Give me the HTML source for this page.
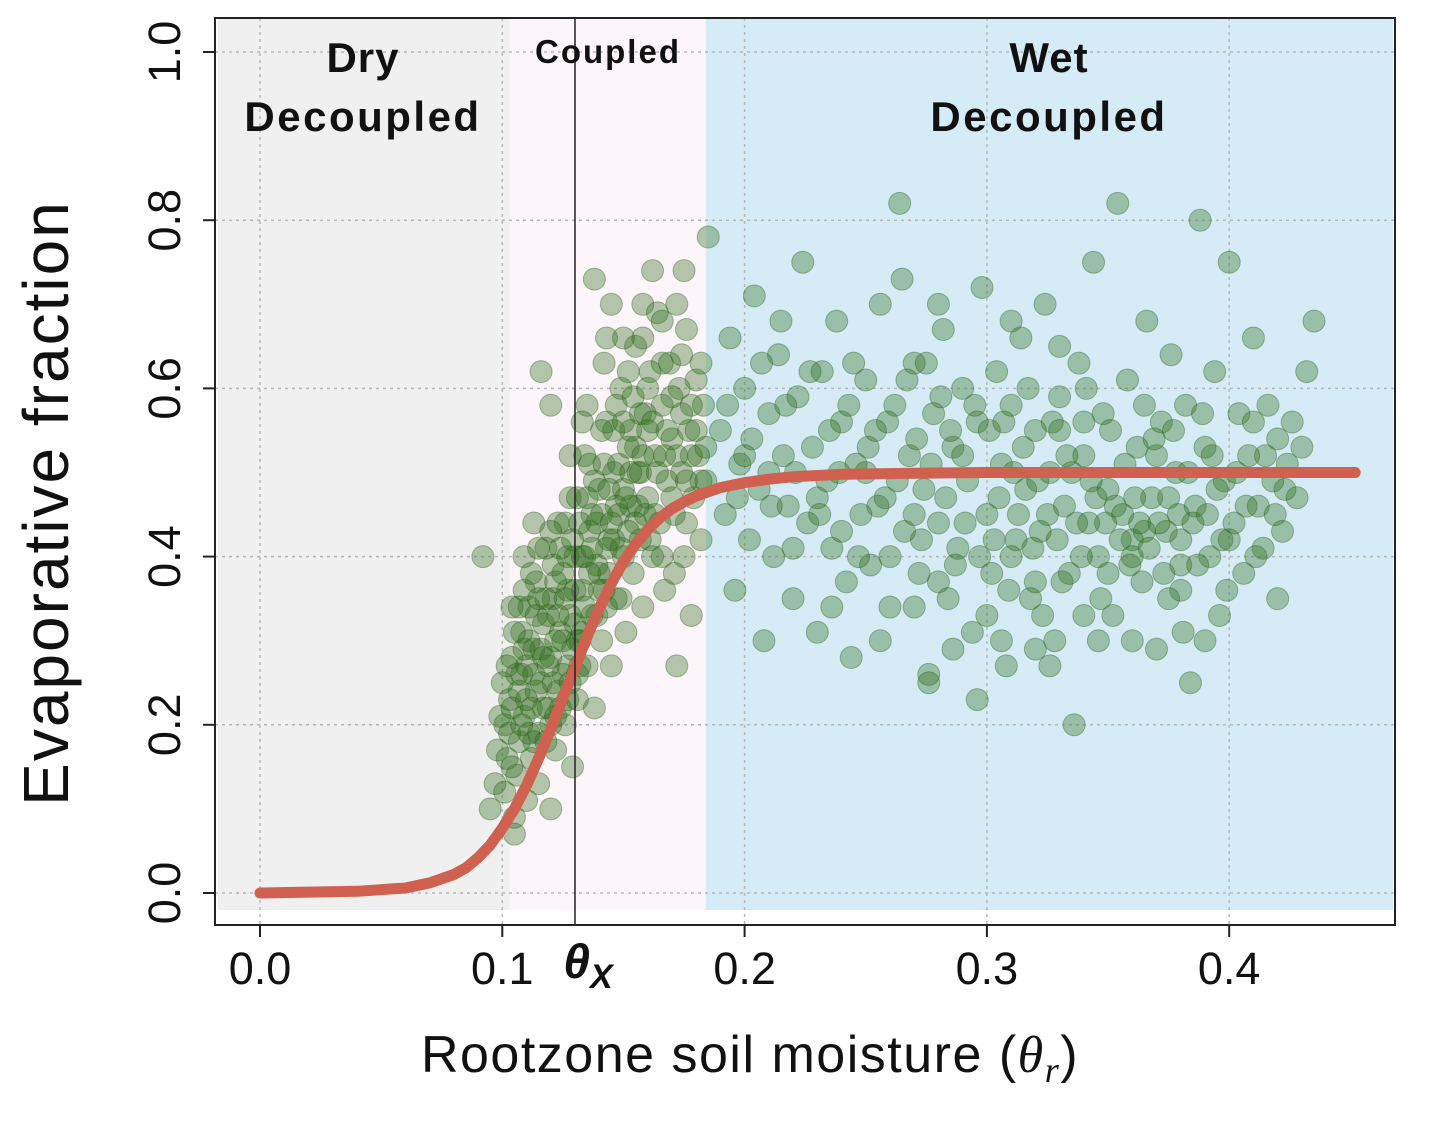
<!DOCTYPE html>
<html><head><meta charset="utf-8">
<style>
html,body{margin:0;padding:0;background:#fff;}
svg{display:block;}
text{font-family:"Liberation Sans",sans-serif;}
</style></head>
<body>
<svg id="chart" width="1429" height="1125" xmlns="http://www.w3.org/2000/svg">
<g id="bg"></g><g id="grid"></g><g id="pts"></g><g id="curve"></g><g id="axes"></g>
</svg>
<script>
const xTicks=[0.0,0.1,0.2,0.3,0.4];
const yTicks=[0.0,0.2,0.4,0.6,0.8,1.0];
const regionBounds=[0.103,0.184];
const thetaX=0.130;
const curveX=[0,0.04,0.06,0.07,0.08,0.085,0.09,0.095,0.1,0.105,0.11,0.115,0.12,0.125,0.13,0.135,0.14,0.145,0.15,0.155,0.16,0.165,0.17,0.175,0.18,0.19,0.2,0.21,0.22,0.24,0.27,0.3,0.35,0.4,0.452];
const curveY=[0,0.002,0.006,0.012,0.022,0.030,0.042,0.057,0.077,0.100,0.128,0.160,0.195,0.232,0.268,0.305,0.338,0.368,0.394,0.415,0.432,0.446,0.457,0.465,0.472,0.482,0.488,0.492,0.495,0.498,0.499,0.5,0.5,0.5,0.5];
const scatterPairs="0.095,0.10 0.097,0.13 0.098,0.17 0.099,0.21 0.100,0.25 0.101,0.12 0.102,0.16 0.103,0.19 0.103,0.23 0.104,0.28 0.105,0.09 0.106,0.14 0.107,0.18 0.107,0.24 0.108,0.31 0.109,0.21 0.110,0.11 0.110,0.27 0.111,0.34 0.112,0.16 0.112,0.22 0.113,0.29 0.114,0.37 0.115,0.13 0.115,0.19 0.116,0.25 0.117,0.32 0.118,0.41 0.119,0.22 0.120,0.10 0.120,0.28 0.121,0.35 0.122,0.17 0.123,0.24 0.123,0.44 0.124,0.31 0.125,0.38 0.126,0.20 0.127,0.27 0.128,0.33 0.128,0.47 0.129,0.15 0.130,0.40 0.131,0.23 0.132,0.30 0.133,0.36 0.134,0.52 0.135,0.27 0.136,0.43 0.137,0.33 0.138,0.22 0.139,0.39 0.140,0.48 0.141,0.30 0.142,0.36 0.143,0.56 0.144,0.42 0.145,0.27 0.146,0.50 0.147,0.35 0.148,0.45 0.149,0.60 0.150,0.40 0.151,0.31 0.152,0.53 0.153,0.46 0.154,0.38 0.155,0.65 0.156,0.50 0.157,0.42 0.158,0.34 0.159,0.57 0.160,0.47 0.161,0.62 0.162,0.40 0.163,0.52 0.164,0.69 0.165,0.44 0.166,0.58 0.167,0.36 0.168,0.49 0.169,0.63 0.170,0.54 0.171,0.45 0.172,0.27 0.173,0.60 0.174,0.50 0.175,0.40 0.176,0.67 0.177,0.55 0.178,0.33 0.179,0.47 0.180,0.61 0.181,0.52 0.182,0.42 0.183,0.58 0.184,0.49 0.185,0.78 0.12,0.58 0.116,0.62 0.113,0.44 0.138,0.73 0.145,0.70 0.175,0.74 0.092,0.40 0.105,0.07 0.104,0.15 0.108,0.26 0.111,0.19 0.114,0.24 0.117,0.28 0.119,0.33 0.122,0.30 0.125,0.26 0.127,0.36 0.130,0.32 0.132,0.27 0.134,0.40 0.137,0.45 0.140,0.38 0.143,0.34 0.146,0.42 0.150,0.48 0.153,0.55 0.157,0.50 0.160,0.55 0.163,0.45 0.167,0.52 0.170,0.47 0.174,0.57 0.178,0.52 0.182,0.49 0.109,0.29 0.115,0.35 0.121,0.39 0.126,0.44 0.131,0.47 0.136,0.51 0.141,0.55 0.147,0.58 0.152,0.62 0.158,0.66 0.120,0.20 0.124,0.22 0.129,0.29 0.133,0.31 0.139,0.33 0.144,0.38 0.149,0.35 0.155,0.44 0.161,0.42 0.166,0.40 0.171,0.38 0.176,0.44 0.190,0.55 0.192,0.45 0.194,0.66 0.196,0.36 0.198,0.51 0.200,0.60 0.202,0.42 0.204,0.71 0.206,0.48 0.208,0.30 0.210,0.57 0.212,0.40 0.214,0.64 0.216,0.52 0.218,0.46 0.220,0.35 0.222,0.59 0.224,0.75 0.226,0.44 0.228,0.53 0.230,0.31 0.232,0.62 0.234,0.49 0.236,0.41 0.238,0.68 0.240,0.56 0.242,0.37 0.244,0.28 0.246,0.51 0.248,0.45 0.250,0.61 0.252,0.39 0.254,0.55 0.256,0.70 0.258,0.47 0.260,0.34 0.262,0.58 0.264,0.82 0.266,0.43 0.268,0.52 0.270,0.63 0.272,0.38 0.274,0.48 0.276,0.26 0.278,0.57 0.280,0.44 0.282,0.67 0.284,0.35 0.286,0.53 0.288,0.41 0.290,0.60 0.292,0.49 0.294,0.31 0.296,0.56 0.298,0.72 0.300,0.45 0.302,0.38 0.304,0.62 0.306,0.51 0.308,0.27 0.310,0.58 0.312,0.42 0.314,0.66 0.316,0.48 0.318,0.35 0.320,0.55 0.322,0.43 0.324,0.70 0.326,0.50 0.328,0.30 0.330,0.59 0.332,0.46 0.334,0.38 0.336,0.20 0.338,0.63 0.340,0.52 0.342,0.44 0.344,0.75 0.346,0.40 0.348,0.57 0.350,0.48 0.352,0.33 0.354,0.82 0.356,0.45 0.358,0.61 0.360,0.42 0.362,0.53 0.364,0.37 0.366,0.68 0.368,0.47 0.370,0.29 0.372,0.56 0.374,0.43 0.376,0.64 0.378,0.50 0.380,0.36 0.382,0.58 0.384,0.25 0.386,0.46 0.388,0.80 0.390,0.53 0.392,0.40 0.394,0.62 0.396,0.33 0.398,0.49 0.400,0.75 0.402,0.44 0.404,0.57 0.406,0.38 0.408,0.52 0.410,0.66 0.412,0.46 0.414,0.41 0.416,0.58 0.418,0.49 0.420,0.54 0.422,0.43 0.424,0.51 0.426,0.56 0.428,0.47 0.430,0.53 0.432,0.62 0.435,0.68 0.305,0.47 0.315,0.53 0.325,0.45 0.335,0.50 0.345,0.47 0.355,0.42 0.365,0.43 0.375,0.47 0.385,0.44 0.395,0.48 0.31,0.40 0.33,0.55 0.35,0.38 0.37,0.52 0.36,0.40 0.34,0.56 0.32,0.37 0.38,0.42 0.29,0.52 0.27,0.45 0.25,0.50 0.23,0.47 0.21,0.50 0.2,0.52 0.215,0.68 0.245,0.63 0.275,0.63 0.285,0.55 0.365,0.58 0.375,0.35 0.39,0.30 0.26,0.40 0.24,0.43 0.22,0.41 0.27,0.34 0.28,0.37 0.3,0.33 0.32,0.29 0.34,0.33 0.36,0.30 0.38,0.39 0.40,0.42 0.41,0.56 0.42,0.35 0.265,0.73 0.31,0.68 0.33,0.65 0.28,0.70 0.101,0.20 0.102,0.27 0.104,0.22 0.105,0.31 0.106,0.26 0.107,0.34 0.108,0.20 0.109,0.36 0.110,0.23 0.111,0.30 0.112,0.38 0.113,0.26 0.114,0.33 0.115,0.41 0.116,0.29 0.117,0.22 0.118,0.35 0.119,0.27 0.120,0.43 0.121,0.25 0.122,0.37 0.123,0.33 0.124,0.41 0.125,0.30 0.126,0.35 0.127,0.40 0.128,0.25 0.129,0.42 0.130,0.36 0.131,0.30 0.132,0.44 0.133,0.40 0.134,0.34 0.135,0.47 0.136,0.38 0.137,0.41 0.138,0.49 0.139,0.44 0.140,0.36 0.141,0.45 0.142,0.51 0.143,0.41 0.144,0.48 0.145,0.44 0.146,0.55 0.147,0.46 0.148,0.51 0.149,0.41 0.150,0.56 0.151,0.47 0.152,0.43 0.153,0.50 0.154,0.59 0.155,0.53 0.156,0.46 0.157,0.57 0.158,0.52 0.159,0.45 0.160,0.60 0.162,0.56 0.164,0.50 0.166,0.63 0.168,0.55 0.170,0.59 0.172,0.52 0.174,0.64 0.176,0.49 0.178,0.58 0.180,0.55 0.182,0.63 0.184,0.53 0.113,0.18 0.118,0.18 0.122,0.21 0.127,0.23 0.131,0.26 0.104,0.34 0.109,0.40 0.135,0.58 0.142,0.63 0.150,0.66 0.158,0.70 0.166,0.68 0.172,0.70 0.162,0.74 0.143,0.66 0.128,0.52 0.133,0.56 0.193,0.58 0.197,0.47 0.203,0.54 0.207,0.63 0.211,0.46 0.217,0.58 0.221,0.50 0.227,0.62 0.231,0.45 0.235,0.55 0.239,0.50 0.243,0.58 0.247,0.40 0.251,0.53 0.255,0.46 0.259,0.56 0.263,0.49 0.267,0.61 0.271,0.54 0.273,0.42 0.277,0.51 0.281,0.59 0.283,0.47 0.287,0.39 0.291,0.44 0.295,0.58 0.297,0.40 0.301,0.55 0.303,0.42 0.307,0.56 0.309,0.36 0.311,0.50 0.313,0.45 0.317,0.60 0.319,0.41 0.321,0.49 0.323,0.33 0.327,0.56 0.329,0.42 0.331,0.37 0.333,0.52 0.337,0.44 0.339,0.40 0.341,0.60 0.343,0.49 0.347,0.35 0.349,0.44 0.351,0.55 0.353,0.46 0.357,0.51 0.359,0.39 0.361,0.47 0.363,0.44 0.367,0.41 0.369,0.54 0.371,0.44 0.373,0.38 0.377,0.55 0.379,0.45 0.381,0.31 0.383,0.50 0.387,0.39 0.389,0.57 0.391,0.45 0.393,0.52 0.397,0.42 0.399,0.36 0.403,0.50 0.407,0.46 0.411,0.40 0.415,0.52 0.419,0.45 0.423,0.48 0.346,0.30 0.326,0.27 0.306,0.30 0.286,0.29 0.256,0.30 0.236,0.34 0.276,0.25 0.296,0.23";
const soilMoisture=scatterPairs.split(" ").map(p=>+p.split(",")[0]);
const evapFraction=scatterPairs.split(" ").map(p=>+p.split(",")[1]);

const NS="http://www.w3.org/2000/svg";
const L=215,R=1395,T=18,B=925;
const sx=v=>260+v*2423;
const sy=v=>893-v*841;
function mk(tag,attrs,parent,txt){const e=document.createElementNS(NS,tag);for(const k in attrs)e.setAttribute(k,attrs[k]);if(txt!==undefined)e.textContent=txt;document.getElementById(parent).appendChild(e);return e;}

let e;
e=mk('rect',{x:L+3,y:T,width:sx(regionBounds[0])-L-3,height:910-T,fill:'#f0f0f0'},'bg');


e=mk('rect',{x:sx(regionBounds[0]),y:T,width:sx(regionBounds[1])-sx(regionBounds[0]),height:910-T,fill:'#fcf5f9'},'bg');


e=mk('rect',{x:sx(regionBounds[1]),y:T,width:R-2-sx(regionBounds[1]),height:910-T,fill:'#d5ecf6'},'bg');



xTicks.forEach(v=>{e=mk('line',{x1:sx(v),x2:sx(v),y1:T,y2:B,stroke:'#b8b8b8','stroke-width':1.5,'stroke-dasharray':'3,4'},'grid');

});
yTicks.forEach(v=>{e=mk('line',{x1:L,x2:R,y1:sy(v),y2:sy(v),stroke:'#b8b8b8','stroke-width':1.5,'stroke-dasharray':'3,4'},'grid');

});

soilMoisture.forEach((x,i)=>{e=mk('circle',{cx:sx(x),cy:sy(evapFraction[i]),r:11,fill:'rgba(50,112,30,0.36)',stroke:'rgba(40,95,25,0.4)','stroke-width':1},'pts');

});

let d='';curveX.forEach((x,i)=>{d+=(i?'L':'M')+sx(x).toFixed(1)+','+sy(curveY[i]).toFixed(1);});
e=mk('path',{d:d,fill:'none',stroke:'#d0604f','stroke-width':11,'stroke-linecap':'round','stroke-linejoin':'round'},'curve');



e=mk('line',{x1:sx(thetaX),x2:sx(thetaX),y1:T,y2:B,stroke:'#222','stroke-width':1.5},'axes');



e=mk('rect',{x:L,y:T,width:R-L,height:B-T,fill:'none',stroke:'#222','stroke-width':2},'axes');



xTicks.forEach(v=>{mk('line',{x1:sx(v),x2:sx(v),y1:B,y2:B+12,stroke:'#222','stroke-width':2},'axes');
e=mk('text',{x:sx(v),y:984,'text-anchor':'middle','font-size':45,fill:'#111'},'axes',v.toFixed(1));

});
yTicks.forEach(v=>{mk('line',{x1:L-12,x2:L,y1:sy(v),y2:sy(v),stroke:'#222','stroke-width':2},'axes');
e=mk('text',{x:0,y:0,'text-anchor':'middle','font-size':45,fill:'#111',transform:`translate(180,${sy(v)}) rotate(-90)`},'axes',v.toFixed(1));

});

function lab(name,txt,x,y,size,ls){e=mk('text',{x:x,y:y,'text-anchor':'middle','font-size':size,'font-weight':'bold',fill:'#111','letter-spacing':ls},'axes',txt);

}
lab('dry-label','Dry',363,72,42,1);lab('dry-decoupled-label','Decoupled',363,131,42,2.5);
lab('coupled-label','Coupled',608,63,33,2);
lab('wet-label','Wet',1049,72,42,1);lab('wet-decoupled-label','Decoupled',1049,131,42,2.5);

e=mk('text',{x:588,y:978,'text-anchor':'middle','font-size':48,'font-weight':'bold','font-style':'italic','font-family':'Liberation Serif,serif',fill:'#111'},'axes');
e.innerHTML='θ<tspan font-size="34" dy="10">X</tspan>';



e=mk('text',{x:750,y:1072,'text-anchor':'middle','font-size':52,fill:'#111','letter-spacing':1.5},'axes');
e.innerHTML='Rootzone soil moisture (<tspan font-family="Liberation Serif,serif" font-style="italic">θ</tspan><tspan font-family="Liberation Serif,serif" font-style="italic" font-size="36" dy="10">r</tspan><tspan dy="-10">)</tspan>';



e=mk('text',{x:0,y:0,'text-anchor':'middle','font-size':64,fill:'#111','letter-spacing':2,transform:'translate(68,503) rotate(-90)'},'axes','Evaporative fraction');


</script>
</body></html>
